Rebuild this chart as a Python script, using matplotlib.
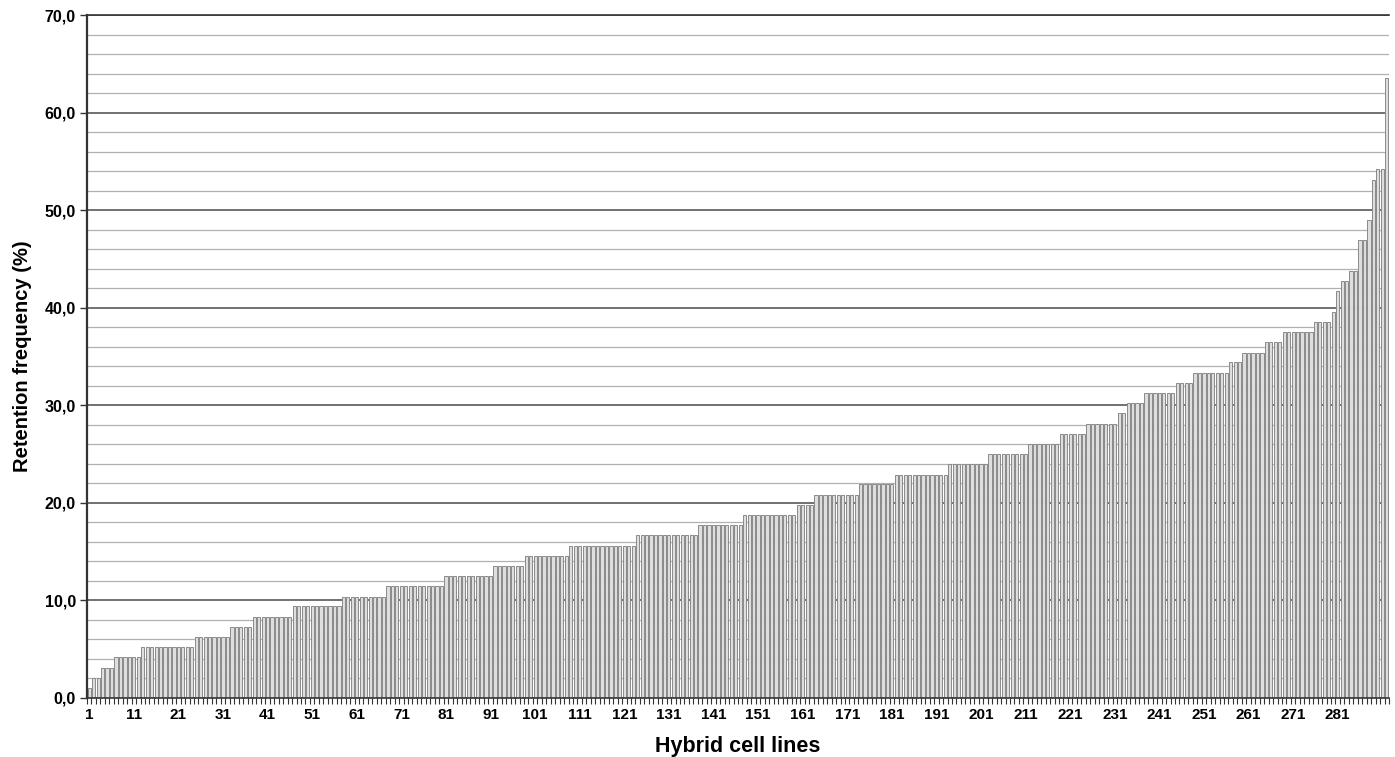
import numpy as np
import matplotlib
matplotlib.use("Agg")
import matplotlib.pyplot as plt
from matplotlib.ticker import FuncFormatter, MultipleLocator, FixedLocator

levels = [1.0, 2.1, 3.1, 4.2, 5.2, 6.25, 7.3, 8.3, 9.4, 10.4, 11.5, 12.5, 13.5, 14.6,
          15.6, 16.7, 17.7, 18.75, 19.8, 20.8, 21.9, 22.9, 24.0, 25.0, 26.0, 27.1,
          28.1, 29.2, 30.2, 31.25, 32.3, 33.3, 34.4, 35.4, 36.5, 37.5, 38.5, 39.6,
          41.7, 42.7, 43.75, 46.9, 49.0, 53.1, 54.2, 63.5]
counts = [1, 2, 3, 6, 12, 8, 5, 9, 11, 10, 13, 11, 7, 10,
          15, 14, 10, 12, 4, 10, 8, 12, 9, 9, 7, 6,
          7, 2, 4, 7, 4, 8, 3, 5, 4, 7, 4, 1,
          1, 2, 2, 2, 1, 1, 2, 1]

values = np.repeat(levels, counts)
cell_lines = np.arange(1, len(values) + 1)
xtick_labels = [str(v) for v in range(1, 282, 10)]

plt.rcParams['font.family'] = ['Liberation Sans', 'DejaVu Sans']

fig = plt.figure(figsize=(13.95, 7.57), dpi=100)
ax = fig.add_axes([87/1395, 1 - 698/757, (1389 - 87)/1395, (698 - 15)/757])

# grid
ax.set_axisbelow(True)
ax.yaxis.set_major_locator(MultipleLocator(10))
ax.yaxis.set_minor_locator(MultipleLocator(2))
ax.grid(axis='y', which='major', color='#4a4a4a', linewidth=1.1)
ax.grid(axis='y', which='minor', color='#b0b0b0', linewidth=0.9)

ax.bar(cell_lines, values, width=0.72, color='#dedede', edgecolor='#8a8a8a',
       linewidth=0.7)

ax.set_xlim(0.5, len(values) + 0.5)
ax.set_ylim(0, 70)

ax.yaxis.set_major_formatter(FuncFormatter(lambda v, p: f"{v:.1f}".replace('.', ',')))
ax.tick_params(axis='y', which='major', length=5, width=1, color='#333333',
               labelsize=11.5, pad=3)
ax.tick_params(axis='y', which='minor', length=0)
for t in ax.get_yticklabels():
    t.set_fontweight('bold')

ax.xaxis.set_major_locator(FixedLocator([int(s) for s in xtick_labels]))
ax.set_xticklabels(xtick_labels, fontweight='bold', fontsize=11)
ax.xaxis.set_minor_locator(FixedLocator(np.arange(0.5, len(values) + 1, 1.0)))
ax.tick_params(axis='x', which='major', length=0, pad=7)
ax.tick_params(axis='x', which='minor', length=4, width=0.8, color='#333333')

ax.spines['right'].set_visible(False)
ax.spines['top'].set_color('#333333')
ax.spines['top'].set_linewidth(1.2)
ax.spines['left'].set_color('#333333')
ax.spines['left'].set_linewidth(1.6)
ax.spines['bottom'].set_color('#333333')
ax.spines['bottom'].set_linewidth(1.2)

ax.set_xlabel('Hybrid cell lines', fontsize=15.5, fontweight='bold', labelpad=10)
ax.set_ylabel('Retention frequency (%)', fontsize=14.5, fontweight='bold', labelpad=9)

fig.savefig('out.png', dpi=100)
